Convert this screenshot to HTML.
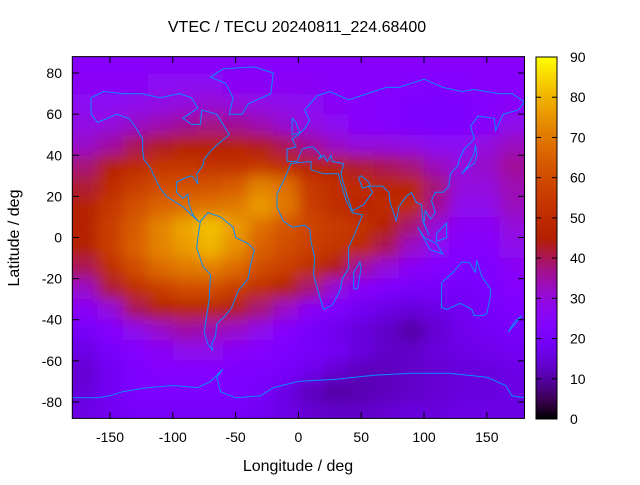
<!DOCTYPE html>
<html><head><meta charset="utf-8"><style>
body{margin:0;background:#fff}
svg text{font-family:"Liberation Sans",sans-serif;font-size:14px;fill:#000}
svg text.big{font-size:16px}
</style></head><body>
<svg id="chart" width="640" height="480" viewBox="0 0 640 480" xmlns="http://www.w3.org/2000/svg">
<defs>
<clipPath id="pc"><rect x="72.3" y="56.6" width="452.2" height="361.8"/></clipPath>
<filter id="bl" filterUnits="userSpaceOnUse" x="0" y="0" width="640" height="480"><feGaussianBlur stdDeviation="7"/></filter>
<linearGradient id="cbg" x1="0" y1="1" x2="0" y2="0"></linearGradient>
</defs>
<text class="big" x="297" y="32" text-anchor="middle">VTEC / TECU 20240811_224.68400</text>
<g id="heat" clip-path="url(#pc)"><g id="cells" filter="url(#bl)"></g></g>
<g id="coast" clip-path="url(#pc)" fill="none" stroke="#0a8cff" stroke-width="1"></g>
<rect x="72.3" y="56.6" width="452.2" height="361.8" fill="none" stroke="#000"/>
<g id="axes"></g>
<rect id="cb" x="536" y="57" width="21" height="362" fill="url(#cbg)" stroke="#000"/>
<g id="cbaxis"></g>
<text class="big" x="298" y="471" text-anchor="middle">Longitude / deg</text>
<text class="big" transform="translate(19,238) rotate(-90)" text-anchor="middle">Latitude / deg</text>
</svg>
<script>
const lonCenters=[-170,-150,-130,-110,-90,-70,-50,-30,-10,10,30,50,70,90,110,130,150,170];
const latCenters=[85,75,65,55,45,35,25,15,5,-5,-15,-25,-35,-45,-55,-65,-75,-85];
const tec=[
[25,25,25,25,25,25,25,25,25,25,25,25,25,25,25,25,25,25],
[26,26,26,27,27,27,26,26,26,26,25,25,25,24,24,24,25,25],
[27,27,28,29,30,31,30,29,28,27,26,25,24,22,21,22,24,26],
[29,30,32,34,36,37,36,34,31,29,27,25,24,22,21,22,25,28],
[32,35,40,43,45,46,46,44,40,36,32,30,30,29,27,27,30,33],
[38,45,50,53,53,52,52,53,50,47,45,42,40,38,33,30,32,36],
[42,50,56,60,61,62,64,72,68,54,51,50,48,48,38,30,30,34],
[45,54,61,66,68,69,71,76,70,56,51,48,50,50,36,28,28,33],
[46,56,64,72,78,82,76,68,62,58,55,52,45,38,30,26,26,30],
[45,56,65,72,76,80,74,65,60,56,53,50,40,32,27,24,24,28],
[40,51,60,67,70,71,67,60,56,51,44,35,30,26,24,22,22,26],
[32,42,51,56,60,60,56,51,45,38,30,25,22,20,20,20,21,24],
[26,30,40,45,48,48,44,38,32,26,22,18,16,15,16,18,20,22],
[20,24,28,32,35,34,32,28,24,20,17,15,13,10,14,17,19,20],
[16,20,24,26,28,28,26,24,22,20,18,15,13,13,15,16,17,18],
[14,18,22,24,24,24,22,22,20,17,14,12,12,13,14,15,15,16],
[15,18,22,22,22,22,22,20,16,12,10,11,12,13,14,15,15,16],
[16,18,20,20,20,20,20,18,16,14,13,13,14,15,15,16,16,16]];
const xTicks=[-150,-100,-50,0,50,100,150];
const yTicks=[-80,-60,-40,-20,0,20,40,60,80];
const cbTicks=[0,10,20,30,40,50,60,70,80,90];
const coasts=[
[[-165,68],[-155,71],[-140,70],[-125,70],[-110,68],[-95,70],[-85,68],[-80,63],[-92,58],[-85,55],[-78,55],[-77,62],[-65,60],[-60,55],[-55,50],[-65,45],[-70,42],[-75,38],[-76,35],[-81,31],[-80,26],[-82,28],[-85,30],[-90,29],[-97,27],[-97,22],[-92,19],[-88,21],[-87,16],[-84,11],[-80,8],[-78,8],[-80,8],[-85,11],[-92,15],[-105,20],[-110,24],[-115,30],[-118,34],[-123,38],[-124,42],[-124,48],[-130,54],[-135,58],[-145,60],[-152,58],[-160,56],[-165,60],[-165,68]],
[[-78,8],[-72,12],[-62,10],[-52,5],[-50,0],[-40,-3],[-35,-6],[-38,-13],[-40,-20],[-48,-26],[-53,-34],[-58,-38],[-65,-42],[-66,-48],[-69,-52],[-68,-55],[-72,-52],[-75,-46],[-73,-38],[-71,-30],[-70,-18],[-76,-14],[-81,-5],[-80,0],[-78,8]],
[[-55,60],[-45,60],[-40,65],[-22,70],[-20,80],[-35,83],[-60,82],[-70,78],[-58,75],[-52,68],[-55,60]],
[[-6,36],[-10,30],[-17,21],[-17,15],[-12,8],[-5,5],[5,6],[9,4],[10,-2],[13,-10],[12,-18],[17,-29],[20,-35],[27,-33],[33,-26],[35,-20],[40,-15],[40,-5],[45,2],[51,11],[43,12],[38,18],[33,28],[32,31],[20,31],[10,33],[10,37],[-6,36]],
[[-9,37],[-9,43],[-2,44],[-5,48],[0,50],[5,53],[9,57],[5,62],[15,69],[25,71],[40,67],[55,70],[70,73],[80,73],[100,77],[115,73],[130,71],[140,72],[160,70],[170,70],[180,66],[175,62],[163,60],[157,52],[156,58],[143,59],[137,54],[140,48],[132,43],[128,38],[127,35],[121,31],[120,25],[115,22],[109,22],[106,18],[109,12],[105,9],[101,13],[100,7],[104,1],[99,8],[98,16],[94,17],[90,22],[86,20],[80,15],[78,8],[73,17],[72,22],[67,25],[57,25],[56,27],[50,30],[48,29],[51,24],[56,25],[59,22],[52,16],[43,13],[39,20],[35,28],[34,31],[36,36],[27,37],[26,40],[23,37],[20,40],[16,38],[18,40],[12,44],[8,44],[3,43],[-1,37],[-9,37]],
[[114,-22],[114,-34],[118,-35],[129,-32],[138,-35],[140,-38],[147,-38],[150,-37],[153,-28],[153,-25],[146,-19],[142,-11],[141,-17],[136,-12],[130,-12],[123,-17],[114,-22]],
[[-180,-78],[-160,-78],[-150,-77],[-140,-75],[-120,-73],[-100,-72],[-80,-73],[-70,-70],[-60,-64],[-65,-68],[-62,-75],[-50,-78],[-30,-77],[-20,-73],[0,-70],[30,-69],[60,-67],[90,-66],[120,-66],[150,-68],[165,-72],[170,-77],[180,-78]],
[[-5,50],[1,51],[-2,56],[-5,58],[-5,50]],
[[130,31],[135,34],[140,36],[142,40],[141,45],[140,41],[135,35],[130,31]],
[[44,-25],[47,-25],[50,-15],[49,-12],[44,-17],[44,-25]],
[[172,-41],[178,-38],[174,-41],[167,-46],[172,-41]],
[[95,5],[105,-6],[115,-8],[110,-3],[100,0],[95,5]],
[[110,2],[118,7],[118,0],[110,-2],[110,2]]];
const NS="http://www.w3.org/2000/svg";
const X=lon=>72.3+(lon+180)*452.2/360;
const Y=lat=>56.6+(88-lat)*361.8/176;
function col(v){let x=Math.max(0,Math.min(1,v/90));
 const r=Math.sqrt(x),g=x*x*x,b=Math.max(0,Math.sin(2*Math.PI*x));
 return `rgb(${Math.round(r*255)},${Math.round(g*255)},${Math.round(b*255)})`;}
function mk(t,a,p){const e=document.createElementNS(NS,t);for(const k in a)e.setAttribute(k,a[k]);(p||document.getElementById('chart')).appendChild(e);return e;}
const cells=document.getElementById('cells');
latCenters.forEach((la,i)=>lonCenters.forEach((lo,j)=>{
 let x0=X(lo-10),x1=X(lo+10),y0=Y(la+5),y1=Y(la-5);
 if(j==0)x0-=25;if(j==lonCenters.length-1)x1+=25;if(i==0)y0-=25;if(i==latCenters.length-1)y1+=25;
 const r=mk('rect',{x:x0,y:y0,width:x1-x0+0.5,height:y1-y0+0.5,fill:col(tec[i][j])},cells);
 
 
}));
const cg=document.getElementById('coast');
coasts.forEach(c=>{const p=mk('polyline',{points:c.map(q=>X(q[0]).toFixed(1)+','+Y(q[1]).toFixed(1)).join(' ')},cg);
 
 });
const ax=document.getElementById('axes');
xTicks.forEach(t=>{const x=X(t);
 mk('line',{x1:x,x2:x,y1:418.4,y2:412,stroke:'#000'},ax);mk('line',{x1:x,x2:x,y1:56.6,y2:63,stroke:'#000'},ax);
 const tx=mk('text',{x:x,y:442,'text-anchor':'middle'},ax);tx.textContent=t;
 
 });
yTicks.forEach(t=>{const y=Y(t);
 mk('line',{x1:72.3,x2:79,y1:y,y2:y,stroke:'#000'},ax);mk('line',{x1:524.5,x2:518,y1:y,y2:y,stroke:'#000'},ax);
 const tx=mk('text',{x:62,y:y+5,'text-anchor':'end'},ax);tx.textContent=t;
 
 });
const gr=document.getElementById('cbg');
for(let k=0;k<=20;k++){mk('stop',{offset:k/20,'stop-color':col(k*4.5)},gr);}
const cba=document.getElementById('cbaxis');
cbTicks.forEach(t=>{const y=419-t*362/90;
 mk('line',{x1:557,x2:552,y1:y,y2:y,stroke:'#000'},cba);mk('line',{x1:536,x2:541,y1:y,y2:y,stroke:'#000'},cba);
 const tx=mk('text',{x:570,y:y+5},cba);tx.textContent=t;
 
 });
</script>
</body></html>
